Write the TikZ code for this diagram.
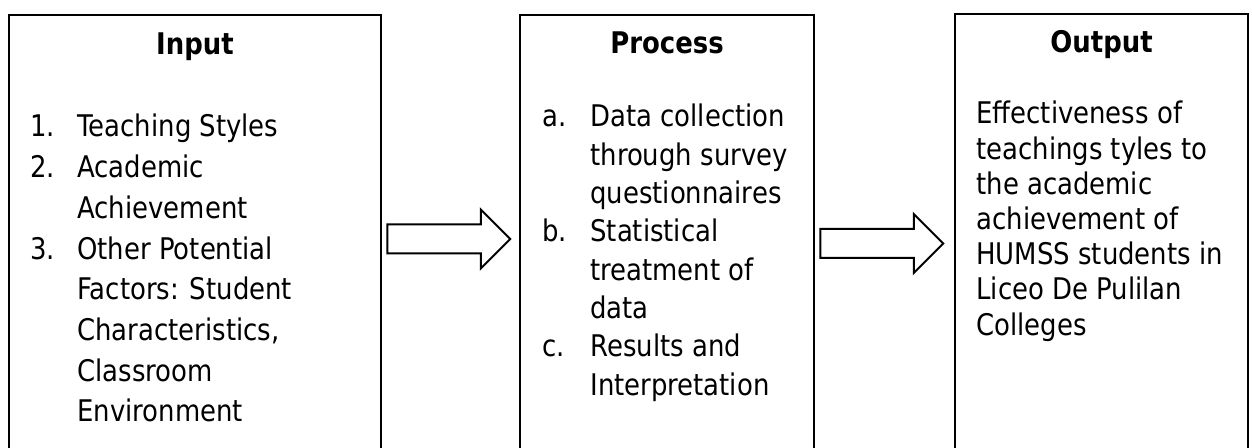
\documentclass[tikz,border=0pt]{standalone}
\usepackage{fontspec}
\setmainfont{DejaVu Sans}[FakeStretch=0.87]
\usetikzlibrary{shapes.arrows, calc, positioning}

\begin{document}
\begin{tikzpicture}[x=0.5pt, y=-0.5pt,
				box/.style={draw, line width=1pt, anchor=north west, minimum height=228pt, inner sep=0pt},
				boxtitle/.style={anchor=base, inner sep=0pt, font=\bfseries\fontsize{14.9}{18}\selectfont},
				item/.style={anchor=base west, inner sep=0pt, font=\fontsize{14.9}{18}\selectfont},
				flow/.style={draw, line width=1pt, single arrow, single arrow head extend=7.5pt, inner sep=6.75pt, minimum height=61.5pt}]
				%Bildbereich
				\clip (0,0) rectangle (1252,448);
				% Kaesten
				\node[box, minimum width=186pt] (input) at (8,14) {};
				\node[box, minimum width=147pt] (process) at (519,14) {};
				\node[box, minimum width=146.5pt] (output) at (954,13) {};
				% Ueberschriften
				\node[boxtitle] (input-title) at ($(input.north)+(0,41)$) {Input};
				\node[boxtitle] (process-title) at ($(process.north)+(0,40)$) {Process};
				\node[boxtitle] (output-title) at ($(output.north)+(0,40)$) {Output};
				% Input
				\foreach \num/\row in {1./0, 2./1, 3./3}
					\node[item] (input-num\row) at ($(input.north west)+(22,123+40.7*\row)$) {\num};
				\foreach \txt [count=\i from 0] in {Teaching Styles, Academic, Achievement, Other Potential, Factors: Student, {Characteristics,}, Classroom, Environment}
					\node[item] (input-line\i) at ($(input.north west)+(69,123+40.7*\i)$) {\txt};
				% Process
				\foreach \num/\row in {a./0, b./3, c./6}
					\node[item] (process-num\row) at ($(process.north west)+(23,113+38.3*\row)$) {\num};
				\foreach \txt [count=\i from 0] in {Data collection, through survey, questionnaires, Statistical, treatment of, data, Results and, Interpretation}
					\node[item] (process-line\i) at ($(process.north west)+(71,113+38.3*\i)$) {\txt};
				% Output
				\foreach \txt [count=\i from 0] in {Effectiveness of, teachings tyles to, the academic, achievement of, HUMSS students in, Liceo De Pulilan, Colleges}
					\node[item] (output-line\i) at ($(output.north west)+(22,111+35.2*\i)$) {\txt};
				% Pfeile
				\node[flow] (arrow-in) at ($(input.north east)!.5!(process.north west)+(-9,225)$) {};
				\node[flow] (arrow-out) at ($(process.north east)!.5!(output.north west)+(-10,230)$) {};
			\end{tikzpicture}
\end{document}
